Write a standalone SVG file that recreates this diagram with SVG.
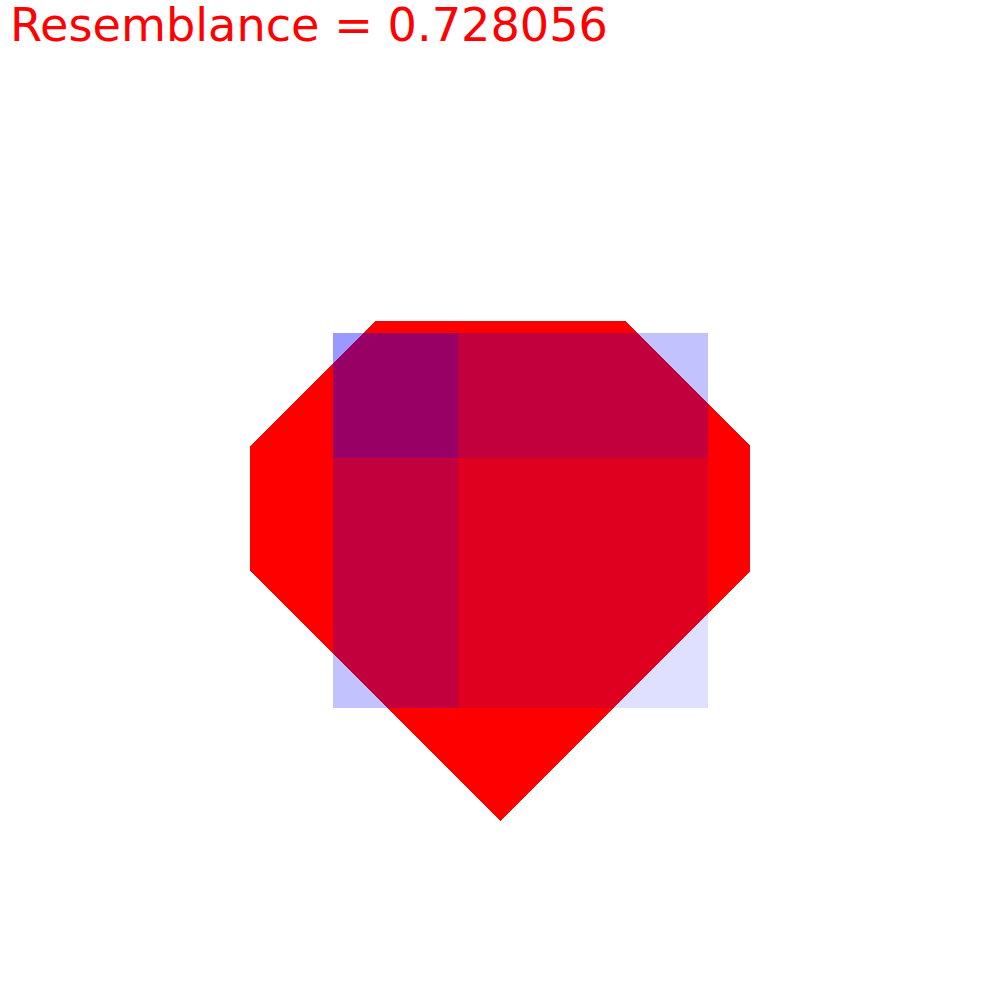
<svg xmlns="http://www.w3.org/2000/svg" width="1000" height="1000" viewBox="0 0 1000 1000">
  <style>
    .blue { fill: #0000ff; shape-rendering: crispEdges; }
    .title { font-family: "DejaVu Sans", "Liberation Sans", sans-serif; font-size: 46px; fill: #ff0000; }
  </style>
  <rect width="1000" height="1000" fill="#ffffff"/>
  <text class="title" x="10" y="41" textLength="598" lengthAdjust="spacingAndGlyphs">Resemblance = 0.728056</text>
  <polygon id="shape" points="375,321 625,321 750,446 750,571 500,821 250,571 250,446" fill="#ff0000" shape-rendering="crispEdges"/>
  <g id="grid">
    <rect class="blue" x="333" y="333" width="125" height="125" fill-opacity="0.4"/>
    <rect class="blue" x="458" y="333" width="250" height="125" fill-opacity="0.24"/>
    <rect class="blue" x="333" y="458" width="125" height="250" fill-opacity="0.24"/>
    <rect class="blue" x="458" y="458" width="250" height="250" fill-opacity="0.125"/>
  </g>
</svg>
